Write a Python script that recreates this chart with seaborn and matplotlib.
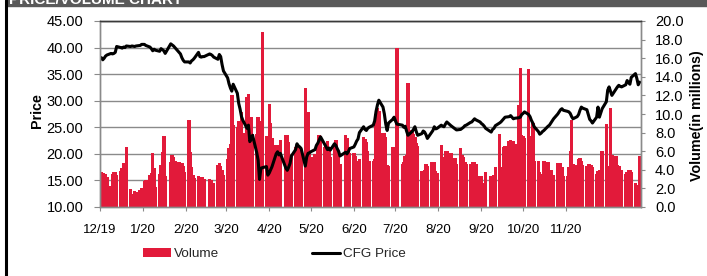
import pandas as pd
import numpy as np
import matplotlib
matplotlib.use("Agg")
import matplotlib.pyplot as plt
import seaborn as sns
from matplotlib.patches import Rectangle
from matplotlib.lines import Line2D

# market holidays skipped in the daily series
holidays = ["2019-12-25", "2020-01-01", "2020-01-20", "2020-02-17", "2020-04-10",
            "2020-05-25", "2020-07-03", "2020-09-07", "2020-11-26", "2020-12-25"]

months = ["2019-12", "2020-01", "2020-02", "2020-03", "2020-04", "2020-05", "2020-06",
          "2020-07", "2020-08", "2020-09", "2020-10", "2020-11", "2020-12"]
last_day = "2020-12-24"

# CFG closing price ($), one value per trading day
price_dec19 = [38.1, 37.7, 38.0, 38.4, 38.6, 38.9, 38.8, 38.9, 39.1, 40.2, 40.0, 39.9, 40.1, 40.0,
               40.3, 40.2, 40.3, 40.2, 40.3, 40.4, 40.6]
price_jan20 = [40.6, 40.4, 40.1, 39.8, 39.4, 39.7, 39.5, 39.3, 39.8, 39.6, 39.4, 38.9, 40.7, 40.5,
               40.3, 40.0, 39.1, 38.8, 38.1, 37.6, 37.3]
price_feb20 = [37.3, 37.1, 37.5, 37.7, 38.0, 39.1, 38.3, 38.2, 38.3, 38.3, 38.8, 38.7, 38.5, 38.2,
               37.8, 38.7, 38.3, 36.8, 35.6]
price_mar20 = [34.3, 33.2, 32.4, 31.8, 33.1, 31.4, 29.5, 28.4, 27.0, 26.3, 24.8, 25.4, 22.3, 22.8,
               23.5, 20.2, 18.8, 15.2, 17.3, 17.4, 17.6, 16.0]
price_apr20 = [16.4, 17.0, 17.6, 20.0, 20.4, 19.8, 20.1, 17.3, 16.9, 17.5, 18.2, 19.6, 20.8, 21.9,
               21.5, 21.3, 21.0, 17.7, 19.4, 20.1, 20.2]
price_may20 = [20.4, 20.8, 21.6, 22.0, 22.6, 23.2, 21.8, 21.3, 20.8, 21.1, 20.7, 21.9, 21.6, 21.0,
               20.5, 19.6, 20.3, 20.0, 20.4, 21.0]
price_jun20 = [21.3, 21.8, 22.4, 22.8, 24.0, 25.1, 24.6, 24.4, 24.8, 25.0, 25.4, 26.2, 28.0, 29.2,
               30.1, 28.8, 27.5, 25.6, 24.4, 25.8, 26.5, 26.9]
price_jul20 = [26.2, 25.6, 25.4, 25.0, 25.2, 24.3, 23.5, 24.2, 24.6, 25.1, 24.2, 23.5, 23.8, 24.3,
               24.1, 23.6, 22.9, 24.0, 24.4, 25.1, 24.7, 24.8]
price_aug20 = [25.4, 25.2, 25.1, 25.6, 26.0, 25.3, 25.1, 24.9, 24.7, 24.5, 24.6, 24.8, 25.0, 25.3,
               25.4, 25.9, 26.0, 26.3, 26.6, 26.4, 26.0]
price_sep20 = [25.7, 25.5, 25.2, 24.8, 24.1, 24.6, 24.8, 25.3, 25.8, 26.0, 26.3, 26.6, 26.9, 27.0,
               27.2, 26.9, 26.6, 26.7, 26.8, 26.9, 27.4]
price_oct20 = [27.6, 27.9, 27.4, 27.0, 26.3, 25.8, 25.1, 24.2, 23.7, 23.9, 24.2, 24.4, 25.2, 25.4,
               25.8, 26.2, 26.6, 27.5, 27.9, 28.3, 28.5, 28.2]
price_nov20 = [28.0, 27.9, 27.6, 27.0, 26.6, 27.0, 27.4, 28.2, 28.8, 28.6, 28.3, 27.4, 26.5, 26.2,
               25.8, 26.9, 28.8, 26.9, 28.5, 29.8]
price_dec20 = [32.0, 32.6, 31.8, 31.0, 32.2, 32.6, 32.9, 32.7, 32.6, 33.0, 33.8, 33.4, 33.1, 34.4,
               35.1, 34.2, 33.0, 33.5]

# daily volume (millions of shares)
vol_dec19 = [3.8, 3.7, 3.6, 3.5, 3.2, 2.3, 3.6, 3.8, 3.8, 3.4, 3.9, 4.2, 4.7, 4.4, 6.4, 1.9, 1.4,
             1.7, 1.6, 1.8, 2.0]
vol_jan20 = [2.8, 2.9, 3.4, 3.7, 5.8, 4.2, 2.2, 3.5, 4.5, 5.9, 7.6, 3.3, 4.8, 5.6, 5.4, 4.9, 4.8,
             4.6, 4.7, 4.4, 3.8]
vol_feb20 = [9.4, 5.9, 4.3, 3.4, 3.1, 3.3, 3.2, 3.1, 3.2, 3.0, 3.0, 2.9, 2.2, 2.6, 4.5, 4.7, 4.4,
             4.0, 3.4]
vol_mar20 = [5.2, 6.3, 6.8, 12.0, 8.8, 8.6, 9.3, 8.7, 10.2, 8.0, 11.8, 12.1, 9.4, 9.7, 7.9, 7.9,
             9.7, 9.3, 9.0, 18.8, 7.6, 7.3]
vol_apr20 = [11.1, 9.0, 7.4, 6.7, 6.7, 6.5, 7.2, 7.7, 7.7, 7.0, 5.5, 5.6, 6.5, 6.3, 6.6, 6.4, 6.0,
             12.8, 6.5, 10.2, 5.7]
vol_may20 = [5.4, 5.7, 5.5, 6.6, 7.7, 7.5, 6.5, 6.8, 7.1, 6.2, 5.4, 6.8, 7.2, 5.9, 5.4, 4.6, 7.7,
             7.4, 6.0, 5.8]
vol_jun20 = [5.8, 5.5, 5.0, 4.9, 5.2, 7.5, 7.3, 7.0, 6.0, 5.0, 5.0, 5.2, 10.0, 10.6, 10.3, 8.0,
             8.0, 7.5, 4.5, 4.4, 6.5, 6.3]
vol_jul20 = [6.5, 17.1, 4.6, 4.8, 5.5, 5.6, 13.3, 8.3, 7.8, 7.5, 6.9, 6.6, 3.9, 3.8, 4.0, 4.6, 4.4,
             4.8, 4.5, 4.8, 3.9, 3.7]
vol_aug20 = [6.7, 5.4, 5.3, 6.0, 6.0, 5.8, 5.3, 5.2, 5.3, 4.6, 6.3, 5.6, 5.4, 4.8, 4.6, 4.6, 4.5,
             4.8, 4.8, 4.6, 3.3]
vol_sep20 = [3.3, 2.1, 2.6, 3.8, 3.3, 3.2, 3.4, 4.3, 7.9, 4.3, 4.2, 6.5, 6.6, 7.1, 7.2, 7.0, 7.1,
             6.8, 11.0, 15.0, 7.7]
vol_oct20 = [7.6, 7.4, 14.8, 7.6, 7.5, 9.0, 5.0, 5.0, 3.8, 3.5, 3.5, 5.0, 4.8, 4.0, 4.0, 3.3, 3.4,
             4.7, 4.6, 4.7, 4.3, 3.3]
vol_nov20 = [3.3, 4.3, 6.0, 9.4, 4.6, 4.5, 5.2, 5.3, 5.0, 4.5, 4.4, 4.6, 4.6, 4.5, 4.3, 3.6, 3.9,
             4.0, 6.0, 8.9]
vol_dec20 = [4.3, 4.4, 10.6, 5.6, 5.5, 4.5, 4.4, 4.0, 4.0, 3.6, 3.8, 4.0, 4.0, 3.8, 2.6, 2.4, 1.7,
             5.5]

prices = [price_dec19, price_jan20, price_feb20, price_mar20, price_apr20, price_may20, price_jun20,
          price_jul20, price_aug20, price_sep20, price_oct20, price_nov20, price_dec20]
volumes = [vol_dec19, vol_jan20, vol_feb20, vol_mar20, vol_apr20, vol_may20, vol_jun20,
           vol_jul20, vol_aug20, vol_sep20, vol_oct20, vol_nov20, vol_dec20]

tick_dates = ["2019-12-01", "2020-01-01", "2020-02-01", "2020-03-01", "2020-04-01", "2020-05-01",
              "2020-06-01", "2020-07-01", "2020-08-01", "2020-09-01", "2020-10-01", "2020-11-01"]
tick_labels = ["12/19", "1/20", "2/20", "3/20", "4/20", "5/20", "6/20", "7/20", "8/20", "9/20",
               "10/20", "11/20"]
price_ticks = [10, 15, 20, 25, 30, 35, 40, 45]
vol_ticks = [0, 2, 4, 6, 8, 10, 12, 14, 16, 18, 20]

RED = "#E21A3A"
GRID = "#8a8a8a"

# build the daily table
frames = []
for m, p, v in zip(months, prices, volumes):
    start = pd.Timestamp(m + "-01")
    end = min(start + pd.offsets.MonthEnd(0), pd.Timestamp(last_day))
    days = pd.bdate_range(start, end, freq="C", holidays=holidays)
    assert len(days) == len(p) == len(v), (m, len(days), len(p), len(v))
    frames.append(pd.DataFrame({"date": days, "price": p, "volume": v}))
df = pd.concat(frames, ignore_index=True)

sns.set_theme(style="ticks")
plt.rcParams["font.family"] = ["Liberation Sans", "DejaVu Sans"]

W, H = 707, 276
fig = plt.figure(figsize=(W / 100, H / 100), dpi=100)
fig.patch.set_facecolor("white")
ax_p = fig.add_axes([100 / W, 1 - 207 / H, 541 / W, 186 / H])
ax_v = ax_p.twinx()

# volume bars (drawn underneath the price line)
bars = ax_v.bar(df["date"], df["volume"], width=2.5, color=RED, linewidth=0, zorder=2)
ax_v.set_ylim(0, 20)
for p in price_ticks[1:]:
    ax_v.axhline((p - price_ticks[0]) / (price_ticks[-1] - price_ticks[0]) * 20,
                 color=GRID, lw=1.0, zorder=1)

ax_p.set_zorder(ax_v.get_zorder() + 1)
ax_p.patch.set_visible(False)
sns.lineplot(data=df, x="date", y="price", ax=ax_p, color="black", linewidth=2.2,
             legend=False)
ax_p.set_ylim(10, 45)
ax_p.set_xlim(pd.Timestamp("2019-12-01"), pd.Timestamp("2020-12-25"))

ax_p.set_yticks(price_ticks)
ax_p.set_yticklabels([f"{t:.2f}" for t in price_ticks])
ax_v.set_yticks(vol_ticks)
ax_v.set_yticklabels([f"{t:.1f}" for t in vol_ticks])
ax_p.set_xticks(pd.to_datetime(tick_dates))
ax_p.set_xticklabels(tick_labels)

ax_p.tick_params(axis="y", direction="out", length=4, width=0.8, color=GRID,
                 labelsize=10.5, pad=8, labelcolor="black")
ax_v.tick_params(axis="y", direction="out", length=3, width=0.8, color=GRID,
                 labelsize=10.5, pad=7, labelcolor="black")
ax_p.tick_params(axis="x", direction="out", length=3, width=0.8, color=GRID,
                 labelsize=9.5, pad=9, labelcolor="black")

for a in (ax_p, ax_v):
    for s in a.spines.values():
        s.set_color(GRID)
        s.set_linewidth(1.0)
    a.spines["top"].set_color("#3a3a3a")

ax_p.set_xlabel("")
ax_p.set_ylabel("Price", fontsize=10.3, fontweight="bold", color="black")
ax_p.yaxis.set_label_coords(-0.104, 0.52)
ax_v.set_ylabel("Volume(in millions)", fontsize=10.3, fontweight="bold", color="black")
ax_v.yaxis.set_label_coords(1.091, 0.49)

price_line = ax_p.lines[0]
fig.legend([bars, price_line], ["Volume", "CFG Price"], loc="center left",
           bbox_to_anchor=(143 / W, 1 - 254 / H), ncol=2, frameon=False,
           fontsize=9.7, handlelength=2.1, handletextpad=0.2, columnspacing=6.9,
           borderpad=0, borderaxespad=0)

# header strip and left border of the report page
fig.patches.append(Rectangle((7 / W, 1 - 6 / H), 1, 6 / H, transform=fig.transFigure,
                             color="#595959", zorder=0))
fig.text(9 / W, 1 - 4 / H, "PRICE/VOLUME CHART", color="white", fontsize=11,
         fontweight="bold", va="baseline", ha="left")
fig.add_artist(Line2D([5.5 / W, 5.5 / W], [0, 1], color="black", lw=2.2,
                      transform=fig.transFigure))

fig.savefig("out.png", dpi=100, facecolor="white")
